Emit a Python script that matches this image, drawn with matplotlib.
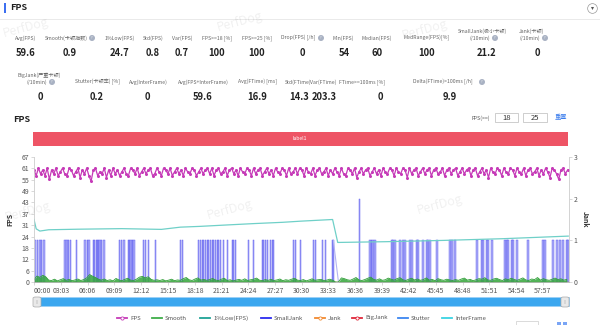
import numpy as np
import matplotlib
matplotlib.use("Agg")
import matplotlib.pyplot as plt
from matplotlib.patches import Rectangle, FancyBboxPatch
from matplotlib.lines import Line2D

plt.rcParams['font.family'] = ['Noto Sans CJK SC', 'DejaVu Sans']

W, H = 600, 325

# ---- summary numbers ----
row1_labels = ["Avg(FPS)", "Smooth(卡顿指数)", "1%Low(FPS)", "Std(FPS)", "Var(FPS)",
               "FPS>=18 [%]", "FPS>=25 [%]", "Drop(FPS) [/h]", "Min(FPS)", "Median(FPS)",
               "MedRange(FPS)[%]", "SmallJank(极小卡顿)\n(/10min)", "Jank(卡顿)\n(/10min)"]
row1_values = ["59.6", "0.9", "24.7", "0.8", "0.7", "100", "100", "0", "54", "60", "100", "21.2", "0"]
row2_labels = ["BigJank(严重卡顿)\n(/10min)", "Stutter(卡顿率) [%]", "Avg(InterFrame)",
               "Avg(FPS+InterFrame)", "Avg(FTime) [ms]", "Std(FTime)", "Var(FTime)",
               "FTime>=100ms [%]", "Delta(FTime)>100ms [/h]"]
row2_values = ["0", "0.2", "0", "59.6", "16.9", "14.3", "203.3", "0", "9.9"]

# ---- time series ----
fps_step = 15  # seconds between FPS samples
fps = [60, 57, 61, 58, 60, 57, 61, 55, 60, 58, 61, 57, 59, 61, 58, 57, 61, 60, 57, 59,
       61, 56, 60, 58, 61, 57, 54, 60, 61, 57, 59, 58, 61, 56, 60, 57, 61, 58, 60, 57,
       59, 61, 58, 57, 61, 60, 58, 61, 57, 59, 61, 58, 60, 61, 57, 58, 61, 59, 57, 61,
       60, 58, 61, 57, 59, 61, 58, 60, 57, 61, 59, 58, 61, 60, 57, 59, 61, 58, 60, 61,
       58, 61, 57, 60, 61, 58, 59, 61, 57, 60, 61, 58, 60, 57, 61, 59, 58, 61, 60, 57,
       61, 58, 60, 61, 57, 59, 61, 58, 60, 57, 61, 59, 58, 61, 60, 57, 61, 58, 59, 61,
       58, 61, 60, 57, 61, 59, 58, 61, 57, 60, 61, 58, 59, 61, 57, 60, 58, 61, 59, 57,
       61, 58, 57, 61, 60, 58, 61, 56, 59, 61, 58, 60, 61, 57, 59, 61, 58, 60, 57, 61,
       59, 58, 61, 60, 57, 61, 59, 58, 61, 60, 56, 61, 58, 60, 61, 57, 59, 61, 58, 60,
       61, 57, 60, 61, 58, 59, 61, 57, 60, 61, 58, 60, 61, 57, 59, 61, 58, 60, 61, 57,
       60, 61, 57, 59, 61, 58, 60, 56, 61, 59, 58, 61, 60, 57, 61, 59, 58, 61, 60, 57,
       61, 59, 58, 61, 57, 60, 61, 58, 59, 61, 57, 60, 58, 61, 59, 56, 61, 60, 58, 55,
       60, 61, 58, 60]

smooth_step = 20
smooth = [1.2, 3.2, 2.5, 3.6, 2.8,
          1.0, 0.8, 1.5, 0.6, 1.2, 1.8, 0.9, 1.4, 0.7, 1.1, 1.6, 0.8, 1.3,
          2.2, 4.0, 3.1, 2.4, 1.5,
          1.0, 1.6, 0.8, 1.2, 0.6, 1.9, 1.1, 0.7, 1.4, 2.0, 1.0, 0.8, 1.5,
          2.6, 3.0, 2.2, 2.8, 1.4, 0.9, 1.2,
          0.8, 1.3, 0.6, 1.0, 1.5, 0.7, 1.1, 0.9, 1.8, 2.4, 1.2, 0.8, 1.6, 2.2, 1.0, 1.4, 0.9, 1.3,
          1.9, 1.1, 0.7, 1.5, 2.0, 0.8, 1.2, 0.6, 1.0, 1.4, 0.9, 1.7, 0.8, 1.2, 1.5, 2.1, 1.0, 0.7, 1.3, 0.9,
          1.4, 0.8, 1.1, 1.6, 0.7, 1.2, 0.9, 1.5, 2.0, 1.0, 0.8, 1.3, 0.6, 1.1, 1.7, 0.9, 1.2, 1.4, 0.8, 1.0, 1.5,
          1.0, 0.0,
          0.0, 2.2, 1.8, 1.2, 0.9, 1.6, 2.4, 1.1, 0.8, 1.3, 2.0, 2.6, 1.4, 1.0, 1.7, 0.9, 1.2, 2.1, 1.5,
          1.0, 1.8, 2.3, 1.2, 0.8, 1.5, 2.0, 1.1, 1.6, 0.9, 1.3, 2.2, 1.0, 1.4, 0.7, 1.8, 1.2, 0.9, 1.5, 1.1,
          0.8, 1.3, 0.9, 1.6, 2.1, 1.0, 1.4, 0.7, 1.2, 1.8, 1.5, 2.3, 1.1, 0.9, 1.6, 2.0, 1.3, 0.8, 1.7, 1.2,
          2.0, 1.4, 0.9, 1.5, 2.2, 1.1, 0.8, 1.6, 1.3, 2.4, 1.0, 1.8, 1.2, 0.9, 1.5, 2.1, 1.3, 1.7, 1.0, 1.4]

low1_t = [0, 15, 40, 100, 300, 600, 870, 1000, 1130, 1300, 1500, 1700, 1820, 2040,
          2075, 2400, 2800, 3200, 3650]
low1_v = [33.5, 28.5, 27.3, 28.0, 28.3, 28.6, 28.2, 29.4, 29.8, 30.5, 31.3, 32.0, 32.6, 33.5,
          21.2, 21.6, 22.3, 23.2, 24.6]

small_jank_t = [8, 24, 40, 51, 69, 212, 224, 235, 251, 292, 349, 365, 376, 406, 415, 426, 433,
                442, 451, 462, 478, 585, 597, 614, 644, 653, 662, 674, 683, 749, 762, 783, 831,
                1001, 1015, 1124, 1138, 1151, 1158, 1172, 1185, 1192, 1206, 1219, 1226, 1240,
                1254, 1260, 1274, 1294, 1322, 1356, 1363, 1376, 1465, 1499, 1560, 1567, 1581,
                1595, 1615, 1629, 1635, 1772, 1785, 1820, 1908, 1922, 1970, 1990, 2038, 2045,
                2222, 2297, 2304, 2317, 2331, 2447, 2454, 2467, 2502, 2522, 2536, 2570, 2583,
                2617, 2624, 2658, 2686, 2692, 2706, 2754, 2843, 2856, 2877, 3027, 3061, 3068,
                3095, 3102, 3129, 3218, 3231, 3238, 3265, 3272, 3299, 3374, 3477, 3490, 3545,
                3572, 3593, 3613, 3641, 3648]
small_jank_v = [2 if t == 2222 else 1 for t in small_jank_t]
# faint connecting stroke across the data gap near 33:40
gap_t = [2045, 2080]
gap_v = [1, 0]

jank_t = [0, 3655]
jank_v = [0, 0]

total_sec = 3655
xtick_labels = ["00:00", "03:03", "06:06", "09:09", "12:12", "15:15", "18:18", "21:21",
                "24:24", "27:27", "30:30", "33:33", "36:36", "39:39", "42:42", "45:45",
                "48:48", "51:51", "54:54", "57:57"]
ytick_labels = [0, 6, 12, 18, 24, 31, 37, 43, 49, 55, 61, 67]


def ftext(x, y, s, **kw):
    return fig.text(x / W, 1 - y / H, s, **kw)


def frect(x0, y0, x1, y1, **kw):
    r = Rectangle((x0 / W, 1 - y1 / H), (x1 - x0) / W, (y1 - y0) / H,
                  transform=fig.transFigure, **kw)
    fig.add_artist(r)
    return r


def info(x, y):
    ftext(x, y, "?", fontsize=2.4, color="white", ha="center", va="center",
          bbox=dict(boxstyle="circle,pad=0.3", fc="#a9b2c3", ec="none"))


def label(x, y, s, two_line_y):
    # two-line labels are drawn as two separate texts
    if "\n" in s:
        top, bottom = s.split("\n")
        ftext(x, two_line_y, top, **lab_kw)
        ftext(x - 2, y, bottom, **lab_kw)
    else:
        ftext(x, y, s, **lab_kw)


fig = plt.figure(figsize=(6, 3.25), dpi=100)
fig.patch.set_facecolor("white")

# header
frect(4, 3, 6, 13, fc="#3d6ff0", ec="none")
ftext(10, 8, "FPS", fontsize=6.5, fontweight="bold", va="center", color="#222")
fig.add_artist(Line2D([0, 1], [1 - 19 / H] * 2, transform=fig.transFigure, color="#e6e6e6", lw=0.6))
fig.add_artist(Line2D([592 / W], [1 - 8 / H], transform=fig.transFigure, marker="o", ms=7,
                      mfc="white", mec="#999", mew=0.5))
fig.add_artist(Line2D([592 / W], [1 - 8 / H], transform=fig.transFigure, marker="v", ms=2.2,
                      color="#555", mew=0))

# watermarks
for wx, wy in [(26, 28), (240, 22), (425, 30), (28, 212), (230, 210), (440, 205)]:
    ftext(wx, wy, "PerfDog", fontsize=9, color="#000", alpha=0.06, rotation=15,
          ha="center", va="center")

# stats rows
lab_kw = dict(fontsize=3.7, color="#666", ha="center", va="center")
val_kw = dict(fontsize=6.8, color="#222", ha="center", va="center", fontweight="bold")
r1_lx = [26, 66, 120, 153, 182, 217, 257, 298, 343, 377, 427, 482, 532]
r1_vx = [26, 70, 120, 153, 182, 217, 257, 302, 344, 377, 427, 487, 537]
for i in range(len(row1_labels)):
    label(r1_lx[i], 38, row1_labels[i], 31)
    ftext(r1_vx[i], 53, row1_values[i], **val_kw)
info(92, 38)
info(321, 38)
info(495, 38)
info(545, 38)

r2_lx = [39, 97, 148, 203, 258, 298, 323, 362, 443]
r2_vx = [40, 97, 147, 203, 257, 299, 324, 380, 450]
for i in range(len(row2_labels)):
    label(r2_lx[i], 82, row2_labels[i], 75)
    ftext(r2_vx[i], 97, row2_values[i], **val_kw)
info(52, 82)
info(482, 82)

# chart header
ftext(13, 120, "FPS", fontsize=6.5, fontweight="bold", va="center", color="#222")
ftext(481, 118, "FPS(>=)", fontsize=3.8, color="#555", ha="center", va="center")
frect(495, 113, 518, 122, fc="white", ec="#bbb", lw=0.5)
frect(523, 113, 547, 122, fc="white", ec="#bbb", lw=0.5)
ftext(506.5, 117.5, "18", fontsize=5.5, color="#333", ha="center", va="center")
ftext(535, 117.5, "25", fontsize=5.5, color="#333", ha="center", va="center")
ftext(561, 117.5, "重置", fontsize=4.5, color="#3b7ded", ha="center", va="center")
frect(33, 132, 568, 146, fc="#ee5465", ec="none")
ftext(300, 139, "label1", fontsize=3.6, color="white", ha="center", va="center")

# main plot
ax = fig.add_axes([34 / W, 43 / H, 535 / W, 125 / H])
ax2 = ax.twinx()
ax.set_zorder(ax2.get_zorder() + 1)
ax.patch.set_visible(False)

fps_t = np.arange(len(fps)) * fps_step
smooth_t = np.arange(len(smooth)) * smooth_step

ax2.bar(small_jank_t, small_jank_v, width=10, color="#9a9af6", edgecolor="#4a4aef",
        linewidth=0.35, alpha=0.8)
ax2.plot(gap_t, gap_v, color="#b4b4f2", lw=0.8)
ax2.plot(jank_t, jank_v, color="#f08a3c", lw=1.0)

ax.fill_between(smooth_t, 0, smooth, color="#34a63c", alpha=0.85, lw=0)
ax.plot(smooth_t, smooth, color="#2f9e37", lw=0.6)
ax.plot(low1_t, low1_v, color="#6fd0c8", lw=0.9)
ax.plot(fps_t, fps, color="#c63bb8", lw=0.9, marker="o", ms=2.2, mew=0)

ax.set_xlim(0, total_sec)
ax.set_ylim(0, 67)
ax2.set_ylim(0, 3)

ax.set_yticks(np.arange(len(ytick_labels)) * 67 / 11)
ax.set_yticklabels(ytick_labels)
ax2.set_yticks([0, 1, 2, 3])
ax.set_xticks(np.arange(len(xtick_labels)) * 183)
ax.set_xticklabels(xtick_labels)
ax.get_xticklabels()[0].set_horizontalalignment("left")

for a in (ax, ax2):
    a.spines["top"].set_visible(False)
    for s in ("left", "right", "bottom"):
        a.spines[s].set_color("#d0d0d0")
        a.spines[s].set_linewidth(0.5)
    a.tick_params(labelsize=5, colors="#555", length=2, width=0.4, pad=1.5)
    a.tick_params(axis="both", color="#bbb")
ax.spines["bottom"].set_color("#b0b0b0")

ax.set_ylabel("FPS", fontsize=5, fontweight="bold", color="#333", labelpad=6)
ax2.set_ylabel("Jank", fontsize=5, fontweight="bold", color="#333", rotation=270, labelpad=8)

# slider
frect(34, 297, 569, 306, fc="#3ba7ef", ec="#9bd0f6", lw=0.5)
for hx in (33, 561):
    fig.add_artist(FancyBboxPatch((hx / W, 1 - 307 / H), 8 / W, 10 / H,
                                  boxstyle="round,pad=0,rounding_size=0.004",
                                  transform=fig.transFigure, fc="#e9e9e9", ec="#aaa", lw=0.5))
    ftext(hx + 4, 302, "|||", fontsize=2.5, color="#999", ha="center", va="center")

# legend
leg_items = [("FPS", "#c63bb8", True, 117), ("Smooth", "#3fae49", False, 152),
             ("1%Low(FPS)", "#1fa396", False, 200), ("SmallJank", "#2b2bef", False, 261),
             ("Jank", "#f28a30", True, 315), ("BigJank", "#e0283a", True, 352),
             ("Stutter", "#3c86f0", False, 398), ("InterFrame", "#3ad3e3", False, 442)]
ly = 1 - 318 / H
for name, col, mk, lx in leg_items:
    fig.add_artist(Line2D([lx / W, (lx + 10) / W], [ly, ly], transform=fig.transFigure,
                          color=col, lw=1.3))
    if mk:
        fig.add_artist(Line2D([(lx + 5) / W], [ly], transform=fig.transFigure, marker="o",
                              ms=2.3, mfc="white", mec=col, mew=0.6))
    ftext(lx + 13, 318, name, fontsize=4.3, color="#555", va="center")

# cut-off controls at the bottom edge
frect(516, 321, 538, 326, fc="white", ec="#ccc", lw=0.5)
frect(557, 322, 561, 326, fc="#7aa5f5", ec="none")
frect(563, 322, 567, 326, fc="#7aa5f5", ec="none")

fig.savefig("out.png", dpi=100)
